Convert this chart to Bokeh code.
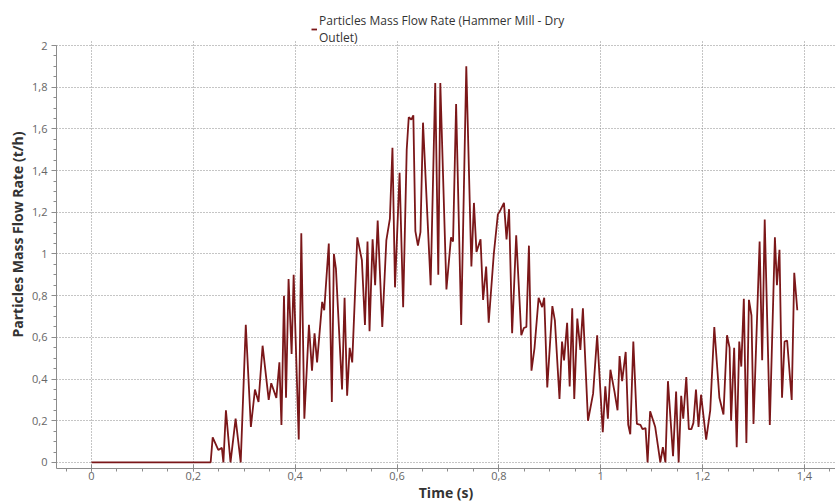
from bokeh.plotting import figure
from bokeh.models import (Legend, LegendItem, SingleIntervalTicker, CustomJSTickFormatter,
                          Range1d, ColumnDataSource, Grid)
from bokeh.embed import file_html
from bokeh.resources import INLINE

# ---- data ----
time_s = [0.000, 0.234, 0.238, 0.249, 0.256, 0.259, 0.264, 0.273, 0.283, 0.293,
          0.303, 0.313, 0.321, 0.328, 0.336, 0.348, 0.353, 0.363, 0.369, 0.373,
          0.378, 0.382, 0.387, 0.393, 0.397, 0.407, 0.412, 0.418, 0.427, 0.433,
          0.438, 0.443, 0.453, 0.457, 0.466, 0.472, 0.476, 0.480, 0.492, 0.497,
          0.502, 0.507, 0.512, 0.522, 0.531, 0.537, 0.542, 0.546, 0.552, 0.557,
          0.562, 0.571, 0.579, 0.586, 0.591, 0.596, 0.605, 0.612, 0.619, 0.623,
          0.628, 0.632, 0.636, 0.641, 0.646, 0.651, 0.666, 0.675, 0.681, 0.685,
          0.697, 0.706, 0.710, 0.716, 0.726, 0.736, 0.746, 0.751, 0.756, 0.764,
          0.769, 0.775, 0.780, 0.790, 0.798, 0.803, 0.810, 0.815, 0.820, 0.826,
          0.834, 0.844, 0.849, 0.854, 0.859, 0.864, 0.870, 0.878, 0.885, 0.889,
          0.895, 0.905, 0.910, 0.919, 0.924, 0.928, 0.934, 0.939, 0.944, 0.948,
          0.954, 0.960, 0.965, 0.975, 0.985, 0.993, 1.004, 1.009, 1.014, 1.019,
          1.027, 1.033, 1.037, 1.042, 1.049, 1.054, 1.058, 1.064, 1.071, 1.078,
          1.082, 1.088, 1.092, 1.097, 1.107, 1.117, 1.122, 1.127, 1.132, 1.142,
          1.148, 1.153, 1.158, 1.162, 1.168, 1.173, 1.178, 1.182, 1.187, 1.192,
          1.197, 1.207, 1.215, 1.223, 1.233, 1.241, 1.248, 1.253, 1.256, 1.262,
          1.267, 1.272, 1.276, 1.281, 1.286, 1.291, 1.296, 1.300, 1.312, 1.317,
          1.322, 1.332, 1.342, 1.346, 1.351, 1.356, 1.361, 1.366, 1.375, 1.380,
          1.386]
flow_th = [0.00, 0.00, 0.12, 0.06, 0.07, 0.00, 0.25, 0.00, 0.21, 0.00,
           0.66, 0.17, 0.35, 0.29, 0.56, 0.30, 0.38, 0.31, 0.48, 0.18,
           0.80, 0.31, 0.88, 0.52, 0.90, 0.11, 1.10, 0.21, 0.66, 0.44,
           0.62, 0.48, 0.77, 0.73, 1.05, 0.29, 1.00, 0.93, 0.35, 0.79,
           0.32, 0.55, 0.48, 1.08, 0.97, 0.66, 1.06, 0.63, 1.07, 0.85,
           1.16, 0.65, 1.065, 1.17, 1.51, 0.84, 1.39, 0.745, 1.50, 1.656,
           1.645, 1.665, 1.11, 1.04, 1.105, 1.63, 0.85, 1.82, 0.90, 1.82,
           0.83, 1.08, 1.06, 1.72, 0.66, 1.90, 0.94, 1.245, 1.01, 1.07,
           0.78, 0.94, 0.67, 1.00, 1.19, 1.21, 1.245, 1.07, 1.215, 0.62,
           1.09, 0.61, 0.645, 0.65, 1.04, 0.44, 0.55, 0.79, 0.745, 0.79,
           0.36, 0.75, 0.68, 0.305, 0.58, 0.49, 0.67, 0.365, 0.74, 0.305,
           0.69, 0.54, 0.74, 0.20, 0.33, 0.61, 0.145, 0.365, 0.21, 0.445,
           0.34, 0.25, 0.51, 0.39, 0.53, 0.18, 0.135, 0.58, 0.185, 0.18,
           0.16, 0.165, 0.00, 0.246, 0.17, 0.00, 0.073, 0.00, 0.39, 0.03,
           0.34, 0.00, 0.32, 0.21, 0.41, 0.16, 0.16, 0.19, 0.35, 0.17,
           0.325, 0.11, 0.25, 0.65, 0.31, 0.23, 0.61, 0.55, 0.20, 0.55,
           0.073, 0.58, 0.46, 0.785, 0.093, 0.78, 0.705, 0.185, 1.06, 0.49,
           1.165, 0.18, 1.08, 0.85, 1.02, 0.31, 0.58, 0.585, 0.30, 0.91,
           0.73]

series_label = "Particles Mass Flow Rate (Hammer Mill - Dry\nOutlet)"
x_title = "Time (s)"
y_title = "Particles Mass Flow Rate (t/h)"

FONT = "Open Sans"

p = figure(width=835, height=504, output_backend="svg", toolbar_location=None,
           x_range=Range1d(-0.0687, 1.461), y_range=Range1d(-0.029, 2.216),
           min_border_left=56, min_border_right=0, min_border_top=0,
           min_border_bottom=36, background_fill_color="white",
           border_fill_color="white", outline_line_color=None)

src = ColumnDataSource(dict(t=time_s, q=flow_th))
r = p.line("t", "q", source=src, line_color="#7b1719", line_width=1.8)

fmt = CustomJSTickFormatter(code="""
var v = Math.round(tick*10)/10;
return v.toString().replace('.', ',');
""")

for ax in (p.xaxis[0], p.yaxis[0]):
    ax.ticker = SingleIntervalTicker(interval=0.2, num_minor_ticks=4)
    ax.formatter = fmt
    ax.axis_line_color = "#8c8c8c"
    ax.major_tick_line_color = "#8c8c8c"
    ax.minor_tick_line_color = "#8c8c8c"
    ax.major_label_text_font = FONT
    ax.major_label_text_font_size = "11px"
    ax.major_label_text_color = "#666666"
    ax.axis_label_text_font = FONT
    ax.axis_label_text_font_size = "14px"
    ax.axis_label_text_font_style = "bold"
    ax.axis_label_text_color = "#333333"

p.xaxis.axis_label = x_title
p.xaxis.major_tick_in = 4
p.xaxis.major_tick_out = 3
p.xaxis.minor_tick_in = 0
p.xaxis.minor_tick_out = 3
p.xaxis.major_label_standoff = 0
p.xaxis.axis_label_standoff = 0

p.yaxis.axis_label = y_title
p.yaxis.bounds = (-0.03, 2.0)
p.yaxis.major_tick_in = 0
p.yaxis.major_tick_out = 5
p.yaxis.minor_tick_in = 0
p.yaxis.minor_tick_out = 3
p.yaxis.major_label_standoff = 4
p.yaxis.axis_label_standoff = 2

has_cross = "cross_bounds" in Grid.properties()
for g in (p.xgrid[0], p.ygrid[0]):
    g.ticker = SingleIntervalTicker(interval=0.2)
    g.grid_line_color = "#8a8a8a"
    g.grid_line_dash = "1 2"
    g.grid_line_width = 1
if has_cross:
    p.xgrid[0].cross_bounds = (-0.029, 2.03)
p.ygrid[0].bounds = (0, 2.0)

legend = Legend(items=[LegendItem(label=series_label, renderers=[r])],
                location=(255, 422), orientation="vertical",
                background_fill_alpha=0, border_line_color=None,
                padding=0, margin=0, spacing=0, label_standoff=2,
                glyph_width=6, glyph_height=8,
                label_text_font=FONT, label_text_font_size="12px",
                label_text_line_height=1.5,
                label_text_color="#333333", label_height=12)
p.add_layout(legend)

open("out.html", "w").write(file_html(p, INLINE))
